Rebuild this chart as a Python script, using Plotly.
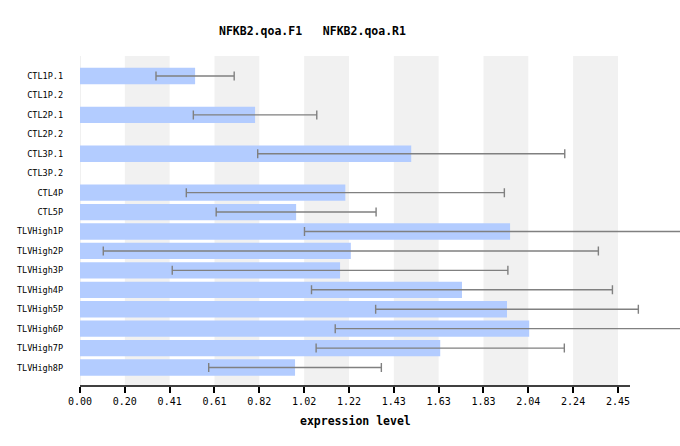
import plotly.graph_objects as go

categories = ["CTL1P.1", "CTL1P.2", "CTL2P.1", "CTL2P.2", "CTL3P.1", "CTL3P.2",
              "CTL4P", "CTL5P", "TLVHigh1P", "TLVHigh2P", "TLVHigh3P", "TLVHigh4P",
              "TLVHigh5P", "TLVHigh6P", "TLVHigh7P", "TLVHigh8P"]
values = [0.524, None, 0.797, None, 1.508, None, 1.208, 0.984, 1.958, 1.233,
          1.184, 1.739, 1.944, 2.045, 1.640, 0.979]
errors = [0.178, None, 0.281, None, 0.699, None, 0.724, 0.364, 0.936, 1.127,
          0.764, 0.685, 0.598, 0.883, 0.565, 0.393]
tick_step = 0.2041
tick_labels = ["0.00", "0.20", "0.41", "0.61", "0.82", "1.02", "1.22", "1.43",
               "1.63", "1.83", "2.04", "2.24", "2.45"]
x_max = 2.504

tick_vals = [i * tick_step for i in range(len(tick_labels))]

FONT = "DejaVu Sans Mono"

axis_px = 550
plot_px = 680 - 80  # plot area runs to the window edge so error bars are not cut early
x_view = x_max * plot_px / axis_px

fig = go.Figure()
fig.add_trace(go.Bar(
    y=categories, x=values, orientation="h",
    marker=dict(color="rgb(179,204,255)", line=dict(width=0)),
    error_x=dict(type="data", array=errors, symmetric=True, color="#808080",
                 thickness=1.4, width=4.5),
    hoverinfo="skip",
))

shapes = []
for i in range(1, len(tick_vals) - 1, 2):
    shapes.append(dict(type="rect", xref="x", yref="paper", x0=tick_vals[i], x1=tick_vals[i + 1],
                       y0=0, y1=1, fillcolor="#f1f1f1", line=dict(width=0), layer="below"))
shapes.append(dict(type="line", xref="x", yref="paper", x0=0, x1=0, y0=0, y1=1,
                   line=dict(color="#ebebeb", width=1.5), layer="below"))
shapes.append(dict(type="line", xref="x", yref="paper", x0=0, x1=x_max, y0=0, y1=0,
                   line=dict(color="black", width=1.5), layer="above"))

fig.update_layout(
    width=680, height=446,
    margin=dict(l=80, r=0, t=56, b=60),
    paper_bgcolor="white", plot_bgcolor="white",
    showlegend=False, bargap=0.16,
    shapes=shapes,
    font=dict(family=FONT, color="black"),
    annotations=[
        dict(text="<b>NFKB2.qoa.F1   NFKB2.qoa.R1</b>", xref="x", yref="paper",
             x=(312 - 80) / axis_px * x_max, y=1, yshift=25, xanchor="center", yanchor="middle",
             showarrow=False, font=dict(family=FONT, size=11.5, color="black")),
        dict(text="<b>expression level</b>", xref="x", yref="paper",
             x=x_max / 2, y=0, yshift=-35, xanchor="center", yanchor="middle",
             showarrow=False, font=dict(family=FONT, size=11.5, color="black")),
    ],
    xaxis=dict(range=[0, x_view], tickvals=tick_vals, ticktext=tick_labels,
               showgrid=False, zeroline=False, showline=False,
               ticks="outside", ticklen=6, tickwidth=1.5, tickcolor="black",
               tickfont=dict(family=FONT, size=10, color="black")),
    yaxis=dict(type="category", categoryorder="array", categoryarray=categories,
               range=[15.95, -1.03], showgrid=False, zeroline=False, showline=False,
               ticks="", ticklabelstandoff=16,
               tickfont=dict(family=FONT, size=8.5, color="black")),
)

fig.write_html("out.html", config={"displayModeBar": False},
               post_script="document.body.style.margin='0';document.body.style.overflow='hidden';")
